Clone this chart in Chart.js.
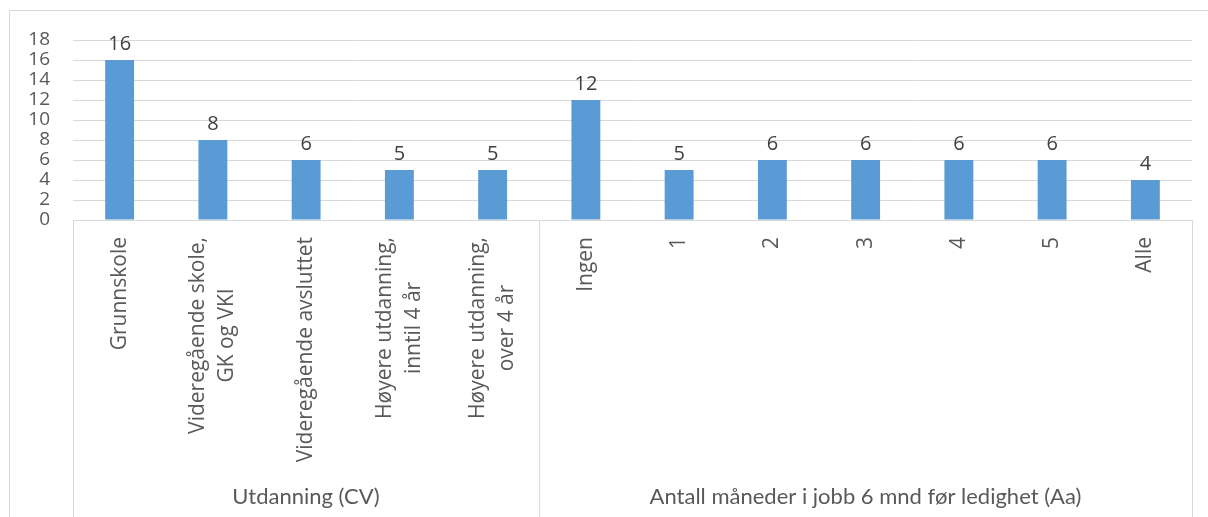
<!DOCTYPE html>
<html>
<head>
<meta charset="utf-8">
<script src="https://cdn.jsdelivr.net/npm/chart.js@4"></script>
<style>
  html, body { margin: 0; padding: 0; background: #ffffff; }
  #wrap { width: 1208px; height: 517px; }
</style>
</head>
<body>
<div id="wrap"><canvas id="chart"></canvas></div>
<script>
(function () {
  "use strict";

  // Category labels (multi-line where the original wraps)
  const CATEGORIES = [
    ["Grunnskole"],
    ["Videregående skole,", "GK og VKI"],
    ["Videregående avsluttet"],
    ["Høyere utdanning,", "inntil 4 år"],
    ["Høyere utdanning,", "over 4 år"],
    ["Ingen"],
    ["1"],
    ["2"],
    ["3"],
    ["4"],
    ["5"],
    ["Alle"],
  ];
  const VALUES = [16, 8, 6, 5, 5, 12, 5, 6, 6, 6, 6, 4];
  const GROUPS = ["Utdanning (CV)", "Antall måneder i jobb 6 mnd før ledighet (Aa)"];
  const GROUP_SIZES = [5, 7];
  const Y_MAX = 18;
  const Y_STEP = 2;

  const COLORS = {
    bar: "#5b9bd5",
    grid: "#d9d9d9",
    text: "#595959",
    label: "#404040",
  };
  const TICK_FONT = "21px 'Open Sans'";
  const VALUE_FONT = "20px 'Open Sans'";
  const GROUP_FONT = "22px Lato";

  // Frame, category labels, group labels and separators
  const decorations = {
    id: "decorations",
    beforeDraw(chart) {
      const ctx = chart.ctx;
      ctx.save();
      ctx.strokeStyle = COLORS.grid;
      ctx.lineWidth = 1;
      ctx.strokeRect(9.5, 10.5, chart.width, chart.height);
      ctx.restore();
    },
    afterDraw(chart) {
      const ctx = chart.ctx;
      const x = chart.scales.x;
      const area = chart.chartArea;
      const step = x.getPixelForTick(1) - x.getPixelForTick(0);
      ctx.save();

      // box lines under the axis
      ctx.strokeStyle = COLORS.grid;
      ctx.lineWidth = 1;
      const bounds = [x.left];
      let idx = 0;
      GROUP_SIZES.forEach((n) => {
        idx += n;
        bounds.push(Math.round(x.getPixelForTick(idx - 1) + step / 2));
      });
      bounds.forEach((bx) => {
        ctx.beginPath();
        ctx.moveTo(Math.round(bx) + 0.5, area.bottom);
        ctx.lineTo(Math.round(bx) + 0.5, chart.height);
        ctx.stroke();
      });

      // rotated category labels
      ctx.fillStyle = COLORS.text;
      ctx.font = TICK_FONT;
      ctx.textBaseline = "middle";
      const lineH = 29;
      CATEGORIES.forEach((lines, i) => {
        const cx = x.getPixelForTick(i);
        const widths = lines.map((l) => ctx.measureText(l).width);
        const maxW = Math.max.apply(null, widths);
        const top = area.bottom + 17;
        lines.forEach((line, j) => {
          const off = (j - (lines.length - 1) / 2) * lineH;
          ctx.save();
          ctx.translate(cx + off, top + maxW / 2);
          ctx.rotate(-Math.PI / 2);
          ctx.textAlign = "center";
          ctx.fillText(line, 0, 0);
          ctx.restore();
        });
      });

      // group labels
      ctx.font = GROUP_FONT;
      ctx.textAlign = "center";
      ctx.textBaseline = "middle";
      GROUPS.forEach((g, i) => {
        const cx = (bounds[i] + bounds[i + 1]) / 2;
        ctx.fillText(g, cx, 497);
      });

      // value labels above bars
      ctx.fillStyle = COLORS.label;
      ctx.font = VALUE_FONT;
      ctx.textBaseline = "bottom";
      const meta = chart.getDatasetMeta(0);
      meta.data.forEach((bar, i) => {
        ctx.fillText(String(VALUES[i]), bar.x, bar.y - 6);
      });
      ctx.restore();
    },
  };

  new Chart(document.getElementById("chart"), {
    type: "bar",
    data: {
      labels: CATEGORIES,
      datasets: [{
        data: VALUES,
        backgroundColor: COLORS.bar,
        barPercentage: 0.31,
        categoryPercentage: 1,
      }],
    },
    options: {
      responsive: true,
      maintainAspectRatio: false,
      animation: false,
      layout: { padding: { top: 40, right: 16, left: 0, bottom: 0 } },
      plugins: { legend: { display: false }, tooltip: { enabled: false } },
      scales: {
        x: {
          ticks: { display: false },
          grid: { display: false, drawTicks: false },
          border: { display: true, color: COLORS.grid, width: 1 },
          afterFit(scale) { scale.height = 297; },
        },
        y: {
          min: 0,
          max: Y_MAX,
          ticks: {
            stepSize: Y_STEP,
            autoSkip: false,
            padding: 23,
            color: COLORS.text,
            font: { family: "'Open Sans'", size: 19 },
          },
          grid: { color: COLORS.grid, drawTicks: false },
          border: { display: false },
          afterFit(scale) { scale.width = 73; },
        },
      },
    },
    plugins: [decorations],
  });
})();
</script>
</body>
</html>
